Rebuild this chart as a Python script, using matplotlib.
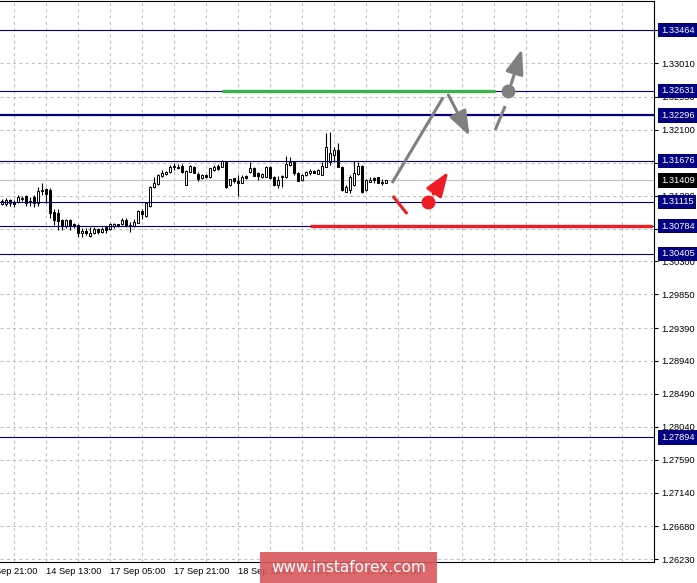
import numpy as np
import matplotlib.pyplot as plt
from matplotlib.patches import Rectangle

plt.rcParams["font.family"] = ["Liberation Sans", "DejaVu Sans"]

# hourly candles
opens = [1.31086, 1.31086, 1.31134, 1.31114, 1.31107, 1.31155, 1.31196, 1.31127, 1.31182, 1.31100,
         1.31257, 1.31285, 1.31278, 1.30977, 1.30963, 1.30868, 1.30786, 1.30868, 1.30806, 1.30799,
         1.30690, 1.30717, 1.30642, 1.30690, 1.30738, 1.30704, 1.30765, 1.30745, 1.30792, 1.30806,
         1.30813, 1.30874, 1.30786, 1.30786, 1.30831, 1.30991, 1.30922, 1.31059, 1.31319, 1.31360,
         1.31462, 1.31490, 1.31517, 1.31585, 1.31596, 1.31606, 1.31346, 1.31528, 1.31596, 1.31492,
         1.31446, 1.31476, 1.31451, 1.31551, 1.31599, 1.31596, 1.31665, 1.31346, 1.31435, 1.31401,
         1.31378, 1.31469, 1.31528, 1.31574, 1.31503, 1.31451, 1.31460, 1.31596, 1.31451, 1.31346,
         1.31451, 1.31460, 1.31619, 1.31665, 1.31514, 1.31414, 1.31483, 1.31506, 1.31537, 1.31496,
         1.31483, 1.31596, 1.31665, 1.31756, 1.31825, 1.31596, 1.31254, 1.31278, 1.31346, 1.31496,
         1.31606, 1.31278, 1.31391, 1.31435, 1.31451, 1.31373, 1.31369]
highs = [1.31148, 1.31162, 1.31155, 1.31141, 1.31209, 1.31196, 1.31209, 1.31182, 1.31209, 1.31319,
         1.31373, 1.31305, 1.31305, 1.31018, 1.31018, 1.30881, 1.30881, 1.30881, 1.30827, 1.30813,
         1.30758, 1.30758, 1.30765, 1.30772, 1.30758, 1.30772, 1.30786, 1.30827, 1.30831, 1.30813,
         1.30888, 1.30891, 1.30844, 1.30877, 1.31004, 1.31014, 1.31114, 1.31332, 1.31460, 1.31496,
         1.31551, 1.31542, 1.31619, 1.31643, 1.31633, 1.31626, 1.31551, 1.31619, 1.31606, 1.31524,
         1.31496, 1.31496, 1.31578, 1.31619, 1.31633, 1.31688, 1.31674, 1.31432, 1.31442, 1.31483,
         1.31483, 1.31483, 1.31665, 1.31585, 1.31528, 1.31510, 1.31606, 1.31606, 1.31462, 1.31469,
         1.31483, 1.31747, 1.31733, 1.31667, 1.31524, 1.31496, 1.31537, 1.31561, 1.31544, 1.31558,
         1.31665, 1.32053, 1.32075, 1.31861, 1.31916, 1.31606, 1.31346, 1.31483, 1.31678, 1.31665,
         1.31613, 1.31428, 1.31451, 1.31451, 1.31455, 1.31424, 1.31414]
lows = [1.31066, 1.31059, 1.31059, 1.31045, 1.31093, 1.31127, 1.31059, 1.31052, 1.31045, 1.31059,
        1.31209, 1.31100, 1.30895, 1.30799, 1.30731, 1.30731, 1.30758, 1.30731, 1.30758, 1.30635,
        1.30639, 1.30663, 1.30635, 1.30676, 1.30676, 1.30690, 1.30690, 1.30731, 1.30758, 1.30772,
        1.30799, 1.30768, 1.30708, 1.30768, 1.30827, 1.30877, 1.30909, 1.31045, 1.31305, 1.31346,
        1.31451, 1.31476, 1.31503, 1.31551, 1.31565, 1.31510, 1.31339, 1.31524, 1.31503, 1.31401,
        1.31428, 1.31435, 1.31442, 1.31537, 1.31551, 1.31592, 1.31305, 1.31332, 1.31369, 1.31196,
        1.31367, 1.31428, 1.31514, 1.31462, 1.31414, 1.31442, 1.31449, 1.31428, 1.31336, 1.31301,
        1.31323, 1.31442, 1.31606, 1.31483, 1.31394, 1.31405, 1.31469, 1.31483, 1.31503, 1.31490,
        1.31476, 1.31592, 1.31619, 1.31665, 1.31592, 1.31264, 1.31254, 1.31241, 1.31332, 1.31483,
        1.31233, 1.31264, 1.31391, 1.31378, 1.31367, 1.31346, 1.31367]
closes = [1.31121, 1.31141, 1.31100, 1.31086, 1.31175, 1.31168, 1.31100, 1.31107, 1.31100, 1.31264,
          1.31278, 1.31223, 1.30963, 1.30868, 1.30854, 1.30786, 1.30868, 1.30786, 1.30786, 1.30690,
          1.30717, 1.30690, 1.30683, 1.30751, 1.30697, 1.30751, 1.30724, 1.30813, 1.30813, 1.30786,
          1.30874, 1.30779, 1.30799, 1.30844, 1.30995, 1.30943, 1.31096, 1.31323, 1.31373, 1.31483,
          1.31503, 1.31524, 1.31592, 1.31606, 1.31574, 1.31520, 1.31542, 1.31606, 1.31514, 1.31424,
          1.31476, 1.31449, 1.31574, 1.31596, 1.31567, 1.31674, 1.31323, 1.31424, 1.31394, 1.31367,
          1.31460, 1.31438, 1.31574, 1.31469, 1.31462, 1.31496, 1.31596, 1.31438, 1.31346, 1.31408,
          1.31469, 1.31629, 1.31665, 1.31506, 1.31405, 1.31483, 1.31528, 1.31537, 1.31514, 1.31551,
          1.31606, 1.31861, 1.31779, 1.31825, 1.31596, 1.31278, 1.31323, 1.31460, 1.31506, 1.31606,
          1.31254, 1.31414, 1.31419, 1.31408, 1.31369, 1.31387, 1.31408]

time_labels = ["13 Sep 21:00", "14 Sep 13:00", "17 Sep 05:00", "17 Sep 21:00",
               "18 Sep 13:00", "19 Sep 05:00", "19 Sep 21:00"]
time_label_bars = [-5, 11, 27, 43, 59, 75, 91]

price_ticks = [1.26230, 1.26680, 1.27140, 1.27590, 1.28040, 1.28490, 1.28940, 1.29390, 1.29850,
               1.30300, 1.30750, 1.31200, 1.31650, 1.32100, 1.32550, 1.33010, 1.33460]

levels = [1.33464, 1.32631, 1.32296, 1.31676, 1.31115, 1.30784, 1.30405, 1.27894]
level_widths = [0.8, 0.8, 1.6, 0.8, 0.8, 0.8, 0.8, 0.8]
last_price = 1.31409

# forecast drawings (bar index, price)
green_level = (55, 123.3, 1.32631)
red_level = (77, 162.5, 1.30784)
gray_up = [(97.5, 1.31373), (110.3, 1.32545)]
gray_down = [(111.6, 1.32576), (116.9, 1.32016)]
gray_dash = [(123.3, 1.32098), (125.8, 1.32426)]
gray_dot = (126.5, 1.32631)
gray_up2 = [(127.3, 1.32727), (130.0, 1.33205)]
red_dash = [(97.7, 1.31196), (101.3, 1.30950)]
red_dot = (106.6, 1.31115)
red_up = [(107.8, 1.31223), (111.6, 1.31528)]

navy = "#000080"
gray = "#808080"
red = "#ee1c25"
green = "#3db449"

fig = plt.figure(figsize=(6.97, 5.83), dpi=100)
ax = fig.add_axes([0, 21 / 583, 654 / 697, 561 / 583])
ax.set_xlim(-0.5, 163)
ax.set_ylim(1.26192, 1.33861)

# grid
ax.set_xticks(np.arange(3, 163, 8))
ax.set_xticklabels([])
ax.set_xticks(time_label_bars[1:], minor=True)
ax.tick_params(axis="x", which="major", length=0)
ax.tick_params(axis="x", which="minor", length=4, width=0.8, direction="out")
ax.yaxis.tick_right()
ax.set_yticks(price_ticks)
ax.set_yticklabels([f"{v:.5f}" for v in price_ticks])
ax.tick_params(axis="y", length=3, width=0.8, direction="out", pad=2, labelsize=6.7)
ax.grid(True, which="major", color="#c0c0c0", linestyle=(0, (3, 3)), lw=0.75)
ax.set_axisbelow(True)
for side in ["top", "right", "bottom"]:
    ax.spines[side].set_linewidth(0.8)
ax.spines["left"].set_visible(False)

# current price line
ax.axhline(last_price, color="#c0c0c0", lw=0.8, zorder=1.5)

# candles
o = np.array(opens)
c = np.array(closes)
x = np.arange(len(o))
ax.vlines(x, lows, highs, color="black", lw=0.8, zorder=3)
bottoms = np.minimum(o, c)
heights = np.maximum(np.abs(c - o), 0.00002)
faces = ["white" if cc >= oo else "black" for oo, cc in zip(o, c)]
ax.bar(x, heights, bottom=bottoms, width=0.6, color=faces, edgecolor="black", lw=0.7, zorder=4)

# level lines
for lv, w in zip(levels, level_widths):
    ax.axhline(lv, color=navy, lw=w, zorder=5)
ax.hlines(green_level[2], green_level[0], green_level[1], color=green, lw=2.4, zorder=6)
ax.hlines(red_level[2], red_level[0], red_level[1], color=red, lw=2.4, zorder=6)

# forecast arrows
def arrow(pts, col):
    ax.annotate("", xy=pts[1], xytext=pts[0],
                arrowprops=dict(arrowstyle="-|>,head_length=1.5,head_width=0.55",
                                color=col, lw=2.2, shrinkA=0, shrinkB=0, mutation_scale=10),
                zorder=7)

ax.plot(*zip(*gray_up), color=gray, lw=2.2, solid_capstyle="butt", zorder=7)
arrow(gray_down, gray)
ax.plot(*zip(*gray_dash), color=gray, lw=2.2, solid_capstyle="butt", zorder=7)
ax.plot(*gray_dot, "o", color=gray, ms=9, zorder=8)
arrow(gray_up2, gray)
ax.plot(*zip(*red_dash), color=red, lw=2.2, solid_capstyle="butt", zorder=7)
ax.plot(*red_dot, "o", color=red, ms=9, zorder=8)
arrow(red_up, red)

# price labels on the right
ytr = ax.get_yaxis_transform()
box_colors = [navy] * len(levels) + ["black"]
for lv, bc in zip(levels + [last_price], box_colors):
    ax.text(1.0105, lv, f"{lv:.5f}", transform=ytr, color="white", fontsize=6.7,
            va="center", ha="left", clip_on=False, zorder=10,
            bbox=dict(boxstyle="square,pad=0.3", fc=bc, ec="none"))

# time labels
xtr = ax.get_xaxis_transform()
for pos, lab in zip(time_label_bars, time_labels):
    ax.text(pos, -0.0175, lab, transform=xtr, fontsize=6.7, va="center", ha="left", clip_on=False)

# watermark
fig.add_artist(Rectangle((260 / 697, 0), 177 / 697, 31 / 583, transform=fig.transFigure,
                         fc="#d9575c", ec="none", alpha=0.9, zorder=20))
fig.text(348.5 / 697, 15 / 583, "www.instaforex.com", color="white", fontsize=11,
         family="DejaVu Sans", ha="center", va="center", zorder=21)

fig.savefig("out.png", dpi=100)
